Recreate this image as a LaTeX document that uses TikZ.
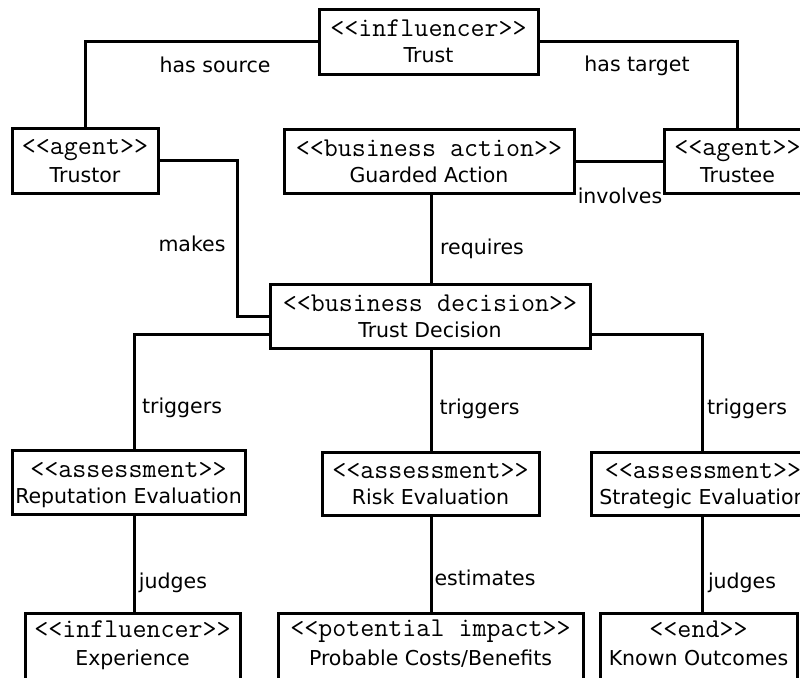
\documentclass[tikz,border=0pt]{standalone}
\usepackage{fontspec}
\setmainfont{DejaVu Sans}
\newfontfamily\stmono{Latin Modern Mono}
\usetikzlibrary{calc}
\newcommand\stereo[1]{{\stmono\fontsize{27.2}{12}\selectfont{<}{<}#1{>}{>}}}
\newcommand\bx[2]{\begin{tabular}{@{}c@{}}\rule[-5pt]{0pt}{26pt}\stereo{#1}\\\rule[-5pt]{0pt}{26pt}#2\end{tabular}}
\newcommand\bxb[2]{\begin{tabular}{@{}c@{}}\rule[-5pt]{0pt}{26pt}\stereo{#1}\\\rule[-11pt]{0pt}{34pt}#2\end{tabular}}
\tikzset{
  box/.style={draw, line width=3pt, rectangle, inner sep=0pt, font=\fontsize{20.5}{12}\selectfont},
  conn/.style={line width=3pt},
  lbl/.style={anchor=base, inner sep=0pt, font=\fontsize{20.5}{12}\selectfont},
}
\begin{document}
\begin{tikzpicture}[x=1pt,y=-1pt]
\useasboundingbox (0,0) rectangle (800,677);
% boxes
\node[box, minimum width=219, minimum height=64] (trust) at (428.5,42) {\bx{influencer}{Trust}};
\node[box, minimum width=146, minimum height=65] (trustor) at (85,160.5) {\bx{agent}{Trustor}};
\node[box, minimum width=290, minimum height=64] (guarded) at (429,161) {\bx{business action}{Guarded Action}};
\node[box, minimum width=147, minimum height=64] (trustee) at (737.5,161) {\bx{agent}{Trustee}};
\node[box, minimum width=320, minimum height=64] (decision) at (430,316) {\bx{business decision}{Trust Decision}};
\node[box, minimum width=233, minimum height=64] (rep) at (128.5,482) {\bx{assessment}{Reputation Evaluation}};
\node[box, minimum width=217, minimum height=63] (risk) at (430.5,483.5) {\bx{assessment}{Risk Evaluation}};
\node[box, minimum width=224, minimum height=63] (strat) at (703,483.5) {\bx{assessment}{Strategic Evaluation}};
\node[box, minimum width=215, minimum height=66] (exp) at (132.5,646) {\bxb{influencer}{Experience}};
\node[box, minimum width=305, minimum height=66] (prob) at (430.5,646) {\bxb{potential impact}{Probable Costs/Benefits}};
\node[box, minimum width=197, minimum height=66] (known) at (698.5,646) {\bxb{end}{Known Outcomes}};
% column coordinates
\coordinate (colL) at (134,0);
\coordinate (colM) at (431,0);
\coordinate (colR) at (702,0);
\coordinate (colMk) at (237,0);
\coordinate (decL) at ($(decision.south west)+(0,-15)$);
\coordinate (decR) at ($(decision.south east)+(0,-15)$);
% connectors
\draw[conn] (trust.west) -| (trustor.north);
\draw[conn] (trust.east) -| (trustee.north);
\draw[conn] (guarded.east) -- (trustee.west);
\draw[conn] (trustor.east) -| (colMk |- decision.west) -- (decision.west);
\draw[conn] (guarded.south -| colM) -- (decision.north -| colM);
\draw[conn] (decL) -| (rep.north -| colL);
\draw[conn] (decR) -| (strat.north -| colR);
\draw[conn] (decision.south -| colM) -- (risk.north -| colM);
\draw[conn] (rep.south -| colL) -- (exp.north -| colL);
\draw[conn] (risk.south -| colM) -- (prob.north -| colM);
\draw[conn] (strat.south -| colR) -- (known.north -| colR);
% labels
\node[lbl] (lsrc) at (215,72) {has source};
\node[lbl] (ltgt) at (637,71) {has target};
\node[lbl] (linv) at (620,203) {involves};
\node[lbl] (lmk) at (192,251) {makes};
\node[lbl] (lreq) at (482,254) {requires};
\node[lbl] (ltrL) at (182,413) {triggers};
\node[lbl] (ltrM) at (479.5,414) {triggers};
\node[lbl] (ltrR) at (747,414) {triggers};
\node[lbl] (ljL) at (173,588) {judges};
\node[lbl] (lest) at (485,585) {estimates};
\node[lbl] (ljR) at (742,588) {judges};
\end{tikzpicture}
\end{document}
